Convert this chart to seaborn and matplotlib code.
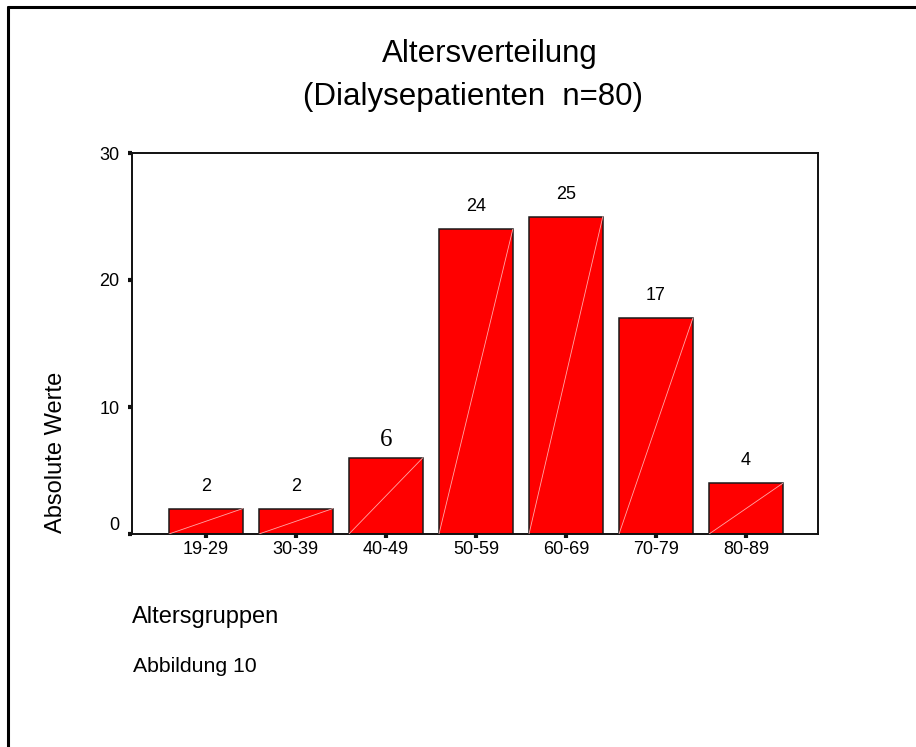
import matplotlib
matplotlib.use('Agg')
import matplotlib.pyplot as plt
import seaborn as sns
from matplotlib.lines import Line2D

# data
age_groups = ['19-29', '30-39', '40-49', '50-59', '60-69', '70-79', '80-89']
counts = [2, 2, 6, 24, 25, 17, 4]
y_ticks = [0, 10, 20, 30]

sns.set_style('white')
plt.rcParams['font.family'] = ['Liberation Sans', 'DejaVu Sans']
plt.rcParams['text.color'] = 'black'
plt.rcParams['axes.labelcolor'] = 'black'
plt.rcParams['xtick.color'] = 'black'
plt.rcParams['ytick.color'] = 'black'

fig = plt.figure(figsize=(9.16, 7.47), dpi=100)
ax = fig.add_axes([132/916, 1-534/747, 686/916, 381/747])

sns.barplot(x=age_groups, y=counts, color='#ff0000', saturation=1,
            edgecolor='#1a1a1a', linewidth=1.1, width=0.82, ax=ax)

# faint diagonal line through each bar (SPSS look)
for p in ax.patches:
    ax.plot([p.get_x(), p.get_x() + p.get_width()], [0, p.get_height()],
            color='#ffa8a8', lw=0.6, zorder=3)

labels = ax.bar_label(ax.containers[0], padding=10, fontsize=13, color='black')
labels[2].set_fontfamily('Liberation Serif')
labels[2].set_fontsize(18)
labels[2].xyann = (0, 5)

ax.set_xlim(-0.82, 6.8)
ax.set_ylim(0, 30)
ax.set_yticks(y_ticks)
ax.set_xlabel('')
ax.set_ylabel('Absolute Werte', fontsize=17)
ax.yaxis.set_label_coords(-0.095, 0.215)

for s in ax.spines.values():
    s.set_visible(True)
    s.set_linewidth(1.4)
    s.set_color('#111111')

ax.tick_params(axis='both', direction='out', length=3, width=3, color='#111111',
               labelsize=13, bottom=True, left=True)
ax.tick_params(axis='y', pad=6)
ax.tick_params(axis='x', pad=2)
ylabs = ax.get_yticklabels()
ylabs[0].set_va('bottom')

fig.text(490/916, 1-62/747, 'Altersverteilung', fontsize=22.5, ha='center', va='baseline')
fig.text(473/916, 1-105/747, '(Dialysepatienten  n=80)', fontsize=22.5, ha='center', va='baseline')
fig.text(132/916, 1-623/747, 'Altersgruppen', fontsize=17, ha='left', va='baseline')
fig.text(133/916, 1-672/747, 'Abbildung 10', fontsize=15.3, ha='left', va='baseline')

# outer frame (left and top only visible)
fig.add_artist(Line2D([8/916, 8/916], [0, 1-7/747], color='black', lw=2.2))
fig.add_artist(Line2D([8/916, 1], [1-7/747, 1-7/747], color='black', lw=2.2))

fig.savefig('out.png', dpi=100, facecolor='white')
